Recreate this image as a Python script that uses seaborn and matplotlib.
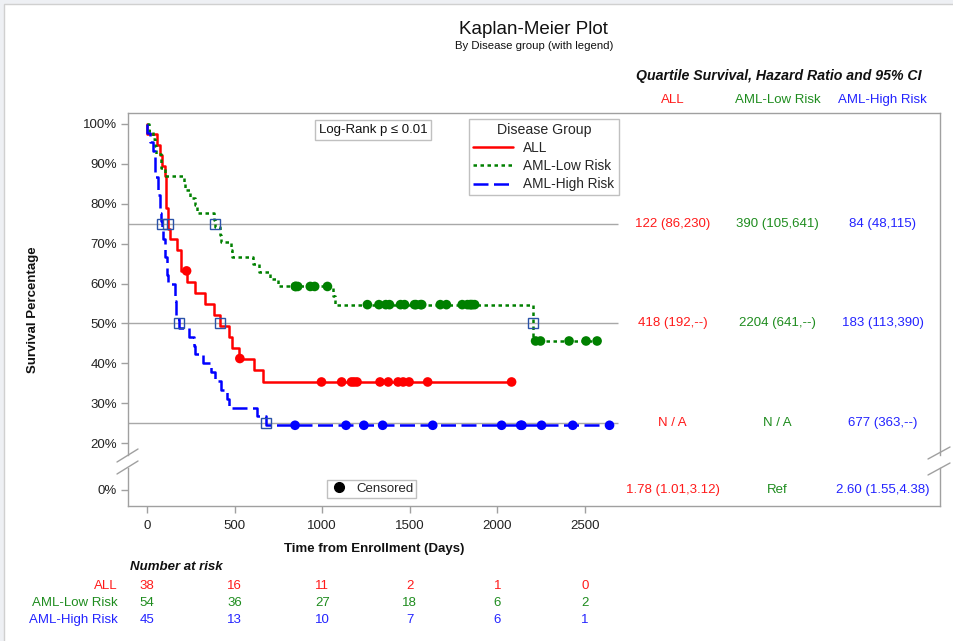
import numpy as np
import pandas as pd
import matplotlib
matplotlib.use("Agg")
import matplotlib.pyplot as plt
import seaborn as sns
from matplotlib.lines import Line2D
from matplotlib.patches import Rectangle
from matplotlib.transforms import blended_transform_factory

sns.set_theme(style="white")
plt.rcParams['font.family'] = ['Liberation Sans', 'DejaVu Sans']

# ---------------- data ----------------
groups = ["ALL", "AML-Low Risk", "AML-High Risk"]
line_colors = ["#FF0000", "#008000", "#0000FF"]
text_colors = ["#FF1A1A", "#1E8C1E", "#2323FF"]

# event times (days) and status (1 = event, 0 = censored)
all_time = [2081, 1602, 1496, 1462, 1433, 1377, 1330, 996, 226, 1199, 1111, 530, 1182, 1167,
            418, 383, 276, 104, 609, 172, 487, 662, 194, 230, 526, 122, 129, 74, 122, 86,
            466, 192, 109, 55, 1, 107, 110, 332]
all_status = [0] * 14 + [1] * 24

low_time = [2569, 2506, 2409, 2218, 1857, 1829, 1562, 1470, 1363, 1030, 860, 1258, 2246, 1870,
            1799, 1709, 1674, 1568, 1527, 1324, 957, 932, 847, 848, 1850, 1843, 1535, 1447, 1384,
            414, 2204, 1063, 481, 105, 641, 390, 288, 421, 79, 748, 486, 48, 272, 1074, 381, 10,
            53, 80, 35, 248, 704, 211, 219, 606]
low_status = [0] * 29 + [1] * 25

high_time = [2640, 2430, 2252, 2140, 2133, 1238, 1631, 2024, 1345, 1136, 845, 422, 162, 84, 100,
             2, 47, 242, 456, 268, 318, 32, 467, 47, 390, 183, 105, 115, 164, 93, 120, 80, 677,
             64, 168, 74, 16, 157, 625, 48, 273, 63, 76, 113, 363]
high_status = [0] * 11 + [1] * 34

# quartile times
q75_days = [122, 390, 84]
q50_days = [418, 2204, 183]
q25_days = [np.nan, np.nan, 677]

q75_text = ["122 (86,230)", "390 (105,641)", "84 (48,115)"]
q50_text = ["418 (192,--)", "2204 (641,--)", "183 (113,390)"]
q25_text = ["N / A", "N / A", "677 (363,--)"]
hr_text = ["1.78 (1.01,3.12)", "Ref", "2.60 (1.55,4.38)"]
table_days = [3000, 3600, 4200]

risk_days = [0, 500, 1000, 1500, 2000, 2500]
risk_all = [38, 16, 11, 2, 1, 0]
risk_low = [54, 36, 27, 18, 6, 2]
risk_high = [45, 13, 10, 7, 6, 1]

y_ticks = [0.2, 0.3, 0.4, 0.5, 0.6, 0.7, 0.8, 0.9, 1.0]
y_labels = ["20%", "30%", "40%", "50%", "60%", "70%", "80%", "90%", "100%"]


def km_steps(times, status):
    t = np.asarray(times, float)
    e = np.asarray(status, int)
    s = 1.0
    xs, ys, cx, cy = [0.0], [1.0], [], []
    for u in np.unique(t):
        n = np.sum(t >= u)
        d = np.sum((t == u) & (e == 1))
        if d > 0:
            s *= 1 - d / n
            xs.append(u)
            ys.append(s)
        if np.any((t == u) & (e == 0)):
            cx.append(u)
            cy.append(s)
    if xs[-1] < t.max():
        xs.append(t.max())
        ys.append(s)
    return xs, ys, cx, cy


step_rows, cens_rows = [], []
for g, tt, ss in zip(groups, [all_time, low_time, high_time], [all_status, low_status, high_status]):
    xs, ys, cx, cy = km_steps(tt, ss)
    step_rows += [(g, x, y) for x, y in zip(xs, ys)]
    cens_rows += [(g, x, y) for x, y in zip(cx, cy)]
steps = pd.DataFrame(step_rows, columns=["group", "time", "surv"])
cens = pd.DataFrame(cens_rows, columns=["group", "time", "surv"])

# ---------------- layout ----------------
W, H = 954, 641
fig = plt.figure(figsize=(W / 100, H / 100), dpi=100)
fig.patch.set_facecolor("#EEF0F4")
fig.patches.append(Rectangle((4 / W, -0.02), 1.0, 1 - 4 / H + 0.02, transform=fig.transFigure,
                             facecolor="white", edgecolor="#D0D0D0", lw=1, zorder=-10))


def fx(px):
    return px / W


def fy(py):
    return 1 - py / H


x0px, pxday = 147.0, 0.1752
L, R = 128, 940
xlim = ((L - x0px) / pxday, (R - x0px) / pxday)

ax = fig.add_axes([fx(L), fy(455), fx(R) - fx(L), fy(113) - fy(455)])
axb = fig.add_axes([fx(L), fy(506), fx(R) - fx(L), fy(468) - fy(506)])
ppu = 398.75  # pixels per unit survival
ax.set_ylim(0.2 - 12 / ppu, 1.0 + 11 / ppu)
axb.set_ylim(-16 / ppu, 22 / ppu)
for a in (ax, axb):
    a.set_xlim(*xlim)
    a.set_facecolor("white")
    for sp in a.spines.values():
        sp.set_color("#A0A0A0")
        sp.set_linewidth(1)
ax.spines["bottom"].set_visible(False)
axb.spines["top"].set_visible(False)

# reference lines
ax.hlines([0.75, 0.5, 0.25], xlim[0], 2690, color="#A8A8A8", lw=1, zorder=1)

pal = dict(zip(groups, line_colors))
dash = {"ALL": "", "AML-Low Risk": (1.4, 1.4), "AML-High Risk": (6.0, 2.2)}
LW = 1.8
sns.lineplot(data=steps, x="time", y="surv", hue="group", style="group", palette=pal,
             dashes=dash, drawstyle="steps-post", estimator=None, sort=False, lw=LW,
             legend=False, ax=ax, zorder=2)
sns.scatterplot(data=cens, x="time", y="surv", hue="group", palette=pal, s=48, linewidth=0,
                legend=False, ax=ax, zorder=3)

qx = q75_days + q50_days + q25_days
qy = [0.75] * 3 + [0.5] * 3 + [0.25] * 3
ax.plot(qx, qy, ls="none", marker="s", ms=6.5, mfc="none", mec="#2A52A8", mew=1, zorder=4)

# ticks
ax.set_xticks([])
ax.set_yticks(y_ticks)
ax.set_yticklabels(y_labels)
axb.set_yticks([0])
axb.set_yticklabels(["0%"])
axb.set_xticks(risk_days)
axb.set_xticklabels([str(d) for d in risk_days])
for a in (ax, axb):
    a.set_xlabel("")
    a.set_ylabel("")
    a.tick_params(axis="both", left=True, bottom=True, direction="out", length=5, width=1,
                  color="#A0A0A0", labelsize=9.5, labelcolor="#222222", pad=3)
axb.tick_params(axis="x", pad=5)

# axis break marks
for (xa, ya, xb, yb) in [(117, 462, 138, 449), (117, 474, 138, 461),
                         (928, 459, 950, 447), (928, 475, 950, 463)]:
    fig.add_artist(Line2D([fx(xa), fx(xb)], [fy(ya), fy(yb)], color="#A0A0A0", lw=1,
                          transform=fig.transFigure))

# titles and labels
fig.text(fx(533), fy(30), "Kaplan-Meier Plot", ha="center", va="center", fontsize=13.5, color="#111111")
fig.text(fx(534), fy(46), "By Disease group (with legend)", ha="center", va="center", fontsize=8.2, color="#111111")
fig.text(fx(33), fy(310), "Survival Percentage", ha="center", va="center", rotation=90,
         fontsize=9.5, fontweight="bold", color="#111111")
fig.text(fx(374), fy(549), "Time from Enrollment (Days)", ha="center", va="center",
         fontsize=9.5, fontweight="bold", color="#111111")

# log-rank box
fig.text(fx(373), fy(130), "Log-Rank p \u2264 0.01", ha="center", va="center", fontsize=9.5,
         color="#111111", family=["Liberation Sans", "DejaVu Sans"],
         bbox=dict(boxstyle="square,pad=0.3", fc="white", ec="#C0C0C0", lw=1))

# group legend
handles = []
for g, c in zip(groups, line_colors):
    if dash[g]:
        handles.append(Line2D([], [], color=c, lw=LW, dashes=dash[g]))
    else:
        handles.append(Line2D([], [], color=c, lw=LW))
leg = fig.legend(handles, groups, title="Disease Group", loc="upper left",
                 bbox_to_anchor=(fx(469), fy(119)), bbox_transform=fig.transFigure,
                 fontsize=9.8, title_fontsize=10.2, frameon=True, fancybox=False,
                 edgecolor="#C0C0C0", framealpha=1, handlelength=2.9, borderpad=0.3,
                 labelspacing=0.3, handletextpad=0.8, borderaxespad=0)
leg.get_frame().set_linewidth(1)

# censored legend
cleg = axb.legend([Line2D([], [], marker="o", color="black", ls="none", ms=7)], ["Censored"],
                  loc="upper left", bbox_to_anchor=(fx(327), fy(480)), bbox_transform=fig.transFigure,
                  fontsize=9.5, frameon=True, fancybox=False, edgecolor="#C0C0C0", framealpha=1,
                  borderpad=0.2, handletextpad=0.6, handlelength=1.4, borderaxespad=0)
cleg.get_frame().set_linewidth(1)

# quartile / hazard ratio table
fig.text(fx(779), fy(76), "Quartile Survival, Hazard Ratio and 95% CI", ha="center", va="center",
         fontsize=10.2, fontweight="bold", fontstyle="italic", color="#111111")
tf = blended_transform_factory(ax.transData, fig.transFigure)
for i, g in enumerate(groups):
    c = text_colors[i]
    ax.text(table_days[i], fy(100), g, transform=tf, ha="center", va="center", fontsize=9.5, color=c)
    ax.text(table_days[i], 0.75, q75_text[i], ha="center", va="center", fontsize=9.5, color=c)
    ax.text(table_days[i], 0.5, q50_text[i], ha="center", va="center", fontsize=9.5, color=c)
    ax.text(table_days[i], 0.25, q25_text[i], ha="center", va="center", fontsize=9.5, color=c)
    axb.text(table_days[i], 0.0, hr_text[i], ha="center", va="center", fontsize=9.5, color=c)

# number at risk
fig.text(fx(130), fy(567), "Number at risk", ha="left", va="center", fontsize=9.5,
         fontweight="bold", fontstyle="italic", color="#111111")
tfb = blended_transform_factory(axb.transData, fig.transFigure)
for i, (g, vals) in enumerate(zip(groups, [risk_all, risk_low, risk_high])):
    yrow = fy(586 + 17 * i)
    fig.text(fx(118), yrow, g, ha="right", va="center", fontsize=9.5, color=text_colors[i])
    for d, v in zip(risk_days, vals):
        axb.text(d, yrow, str(v), transform=tfb, ha="center", va="center", fontsize=9.5,
                 color=text_colors[i])

fig.savefig("out.png", dpi=100)
